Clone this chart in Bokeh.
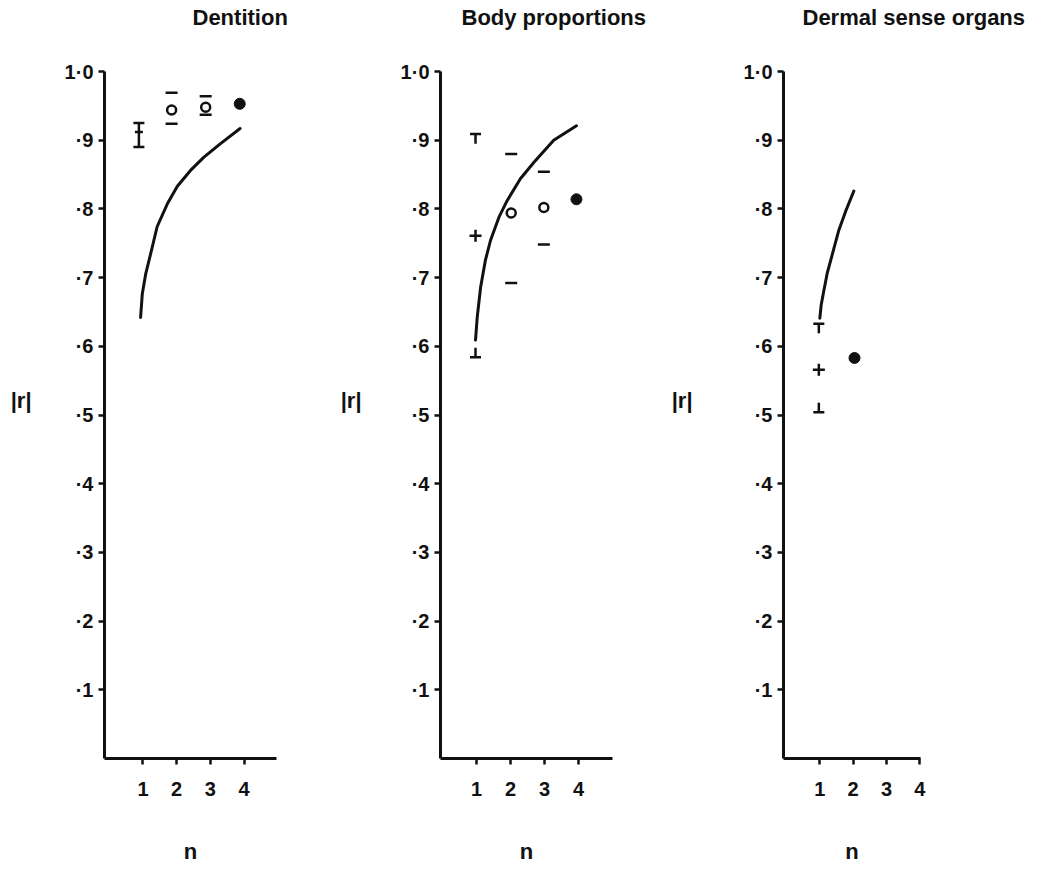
from bokeh.plotting import figure
from bokeh.layouts import row
from bokeh.models import FixedTicker, Range1d, Title
from bokeh.embed import file_html
from bokeh.resources import INLINE

# ---------------- data ----------------
Y_TICKS = [0.1, 0.2, 0.3, 0.4, 0.5, 0.6, 0.7, 0.8, 0.9, 1.0]
Y_TICK_LABELS = ["·1", "·2", "·3", "·4", "·5", "·6", "·7", "·8", "·9", "1·0"]
X_TICKS = [1, 2, 3, 4]
X_TICK_LABELS = ["1", "2", "3", "4"]
TITLES = ["Dentition", "Body proportions", "Dermal sense organs"]
Y_LABEL = "|r|"
X_LABEL = "n"

# Dentition
dent_curve_n = [0.93, 0.98, 1.08, 1.23, 1.42, 1.72, 2.02, 2.41, 2.80, 3.30, 3.88]
dent_curve_r = [0.642, 0.676, 0.705, 0.735, 0.774, 0.807, 0.833, 0.856, 0.875, 0.895, 0.917]
dent_bar_n = [0.88]
dent_bar_lo = [0.890]
dent_bar_hi = [0.925]
dent_bar_mean = [0.912]
dent_open_n = [1.85, 2.86]
dent_open_r = [0.944, 0.948]
dent_open_hi = [0.969, 0.964]
dent_open_lo = [0.924, 0.937]
dent_fill_n = [3.87]
dent_fill_r = [0.953]

# Body proportions
body_curve_n = [0.97, 1.02, 1.12, 1.26, 1.41, 1.66, 1.90, 2.29, 2.69, 3.27, 3.94]
body_curve_r = [0.609, 0.642, 0.686, 0.725, 0.754, 0.788, 0.812, 0.844, 0.868, 0.900, 0.921]
body_plus_n = [0.97]
body_plus_r = [0.761]
body_plus_hi = [0.909]
body_plus_lo = [0.584]
body_open_n = [2.02, 2.98]
body_open_r = [0.794, 0.802]
body_open_hi = [0.880, 0.854]
body_open_lo = [0.692, 0.748]
body_fill_n = [3.94]
body_fill_r = [0.814]

# Dermal sense organs
derm_curve_n = [1.00, 1.04, 1.12, 1.22, 1.37, 1.57, 1.77, 2.02]
derm_curve_r = [0.641, 0.660, 0.681, 0.706, 0.733, 0.769, 0.796, 0.826]
derm_plus_n = [0.97]
derm_plus_r = [0.566]
derm_plus_hi = [0.633]
derm_plus_lo = [0.504]
derm_fill_n = [2.04]
derm_fill_r = [0.583]

FONT = "Liberation Sans"
BLACK = "#111111"
STEM = 0.014  # stub length of the T / ⊥ caps (data units of r)


def make_panel(x_range, frame_w, border_l, border_r, title, title_off, ylab_standoff):
    p = figure(
        x_range=Range1d(*x_range), y_range=Range1d(0, 1.0),
        frame_width=frame_w, frame_height=687,
        min_border_left=border_l, min_border_right=border_r,
        min_border_top=71, min_border_bottom=111,
        output_backend="svg", toolbar_location=None,
        background_fill_color="white", border_fill_color="white",
        title=title,
    )
    p.outline_line_color = None
    p.grid.visible = False
    p.title.align = "left"
    p.title.vertical_align = "top"
    p.title.offset = title_off
    p.title.standoff = 0
    p.title.text_font = FONT
    p.title.text_font_style = "bold"
    p.title.text_font_size = "22px"
    p.title.text_color = BLACK
    # empty spacer between title and frame, lifts the title to the top
    p.add_layout(Title(text=" ", text_font_size="1px", standoff=37), "above")
    for ax in (p.xaxis[0], p.yaxis[0]):
        ax.axis_line_width = 3
        ax.axis_line_color = BLACK
        ax.major_tick_line_width = 2.5
        ax.major_tick_line_color = BLACK
        ax.major_tick_in = 0
        ax.major_tick_out = 6
        ax.minor_tick_line_color = None
        ax.major_label_text_font = FONT
        ax.major_label_text_font_style = "bold"
        ax.major_label_text_font_size = "20px"
        ax.major_label_text_color = BLACK
        ax.axis_label_text_font = FONT
        ax.axis_label_text_font_style = "bold"
        ax.axis_label_text_font_size = "22px"
        ax.axis_label_text_color = BLACK
    p.yaxis.ticker = FixedTicker(ticks=Y_TICKS)
    p.yaxis.major_label_overrides = dict(zip(Y_TICKS, Y_TICK_LABELS))
    p.yaxis.major_label_standoff = 5
    p.yaxis.axis_label = Y_LABEL + "\n"
    p.yaxis.axis_label_orientation = "horizontal"
    p.yaxis.axis_label_standoff = ylab_standoff
    p.xaxis.ticker = FixedTicker(ticks=X_TICKS)
    p.xaxis.major_label_overrides = dict(zip(X_TICKS, X_TICK_LABELS))
    p.xaxis.major_label_standoff = 17
    p.xaxis.axis_label = X_LABEL
    p.xaxis.axis_label_standoff = 40
    return p


def curve(p, n, r):
    p.line(n, r, line_width=3, line_color=BLACK, line_cap="round", line_join="round")


def caps(p, n, r, size=12):
    p.scatter(n, r, marker="dash", size=size, line_width=2.5, line_color=BLACK)


def open_pts(p, n, r):
    p.scatter(n, r, marker="circle", size=9, fill_color="white",
              line_color=BLACK, line_width=2.5)


def fill_pts(p, n, r):
    p.scatter(n, r, marker="circle", size=11, fill_color=BLACK, line_color=BLACK)


def plus_pts(p, n, r, hi, lo):
    p.scatter(n, r, marker="cross", size=12, line_width=2.5, line_color=BLACK)
    caps(p, n, hi, size=11)
    caps(p, n, lo, size=11)
    p.segment(n, hi, n, [v - STEM for v in hi], line_width=2.5, line_color=BLACK)
    p.segment(n, lo, n, [v + STEM for v in lo], line_width=2.5, line_color=BLACK)


# Panel 1: Dentition  (canvas 0..332, axis at 104)
p1 = make_panel((-0.14, 4.96), 172, 104, 56, TITLES[0], 88, 30)
curve(p1, dent_curve_n, dent_curve_r)
p1.segment(dent_bar_n, dent_bar_lo, dent_bar_n, dent_bar_hi, line_width=2.5, line_color=BLACK)
caps(p1, dent_bar_n, dent_bar_lo, size=11)
caps(p1, dent_bar_n, dent_bar_hi, size=11)
caps(p1, dent_bar_n, dent_bar_mean, size=8)
open_pts(p1, dent_open_n, dent_open_r)
caps(p1, dent_open_n, dent_open_hi)
caps(p1, dent_open_n, dent_open_lo)
fill_pts(p1, dent_fill_n, dent_fill_r)

# Panel 2: Body proportions  (canvas 332..662, axis at 440)
p2 = make_panel((-0.06, 5.0), 172, 108, 50, TITLES[1], 21, 36)
curve(p2, body_curve_n, body_curve_r)
plus_pts(p2, body_plus_n, body_plus_r, body_plus_hi, body_plus_lo)
open_pts(p2, body_open_n, body_open_r)
caps(p2, body_open_n, body_open_hi)
caps(p2, body_open_n, body_open_lo)
fill_pts(p2, body_fill_n, body_fill_r)

# Panel 3: Dermal sense organs  (canvas 662..1032, axis at 783)
p3 = make_panel((-0.09, 4.02), 137, 121, 112, TITLES[2], 19, 48)
curve(p3, derm_curve_n, derm_curve_r)
plus_pts(p3, derm_plus_n, derm_plus_r, derm_plus_hi, derm_plus_lo)
fill_pts(p3, derm_fill_n, derm_fill_r)

layout = row(p1, p2, p3, spacing=0)
open("out.html", "w").write(file_html(layout, INLINE))
